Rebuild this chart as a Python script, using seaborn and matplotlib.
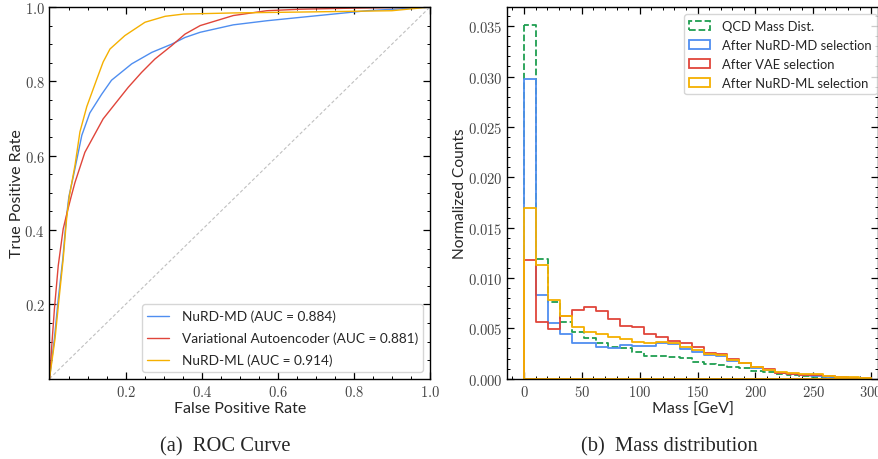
import numpy as np
import pandas as pd
import matplotlib
matplotlib.use('Agg')
import matplotlib.pyplot as plt
import seaborn as sns
from matplotlib.patches import Patch
from matplotlib.ticker import MultipleLocator, FuncFormatter

# ROC curves
fpr_md = [0, 0.0128, 0.023, 0.035, 0.044, 0.051, 0.063, 0.085, 0.106, 0.137, 0.163, 0.216,
          0.269, 0.321, 0.356, 0.396, 0.483, 0.571, 0.658, 0.746, 0.834, 0.921, 1.0]
tpr_md = [0, 0.107, 0.214, 0.322, 0.43, 0.49, 0.546, 0.655, 0.715, 0.765, 0.803, 0.847,
          0.878, 0.900, 0.918, 0.932, 0.952, 0.963, 0.972, 0.981, 0.990, 0.995, 1.0]

fpr_vae = [0, 0.001, 0.006, 0.013, 0.023, 0.036, 0.047, 0.057, 0.067, 0.093, 0.141, 0.172,
           0.207, 0.242, 0.277, 0.321, 0.356, 0.396, 0.483, 0.571, 0.658, 0.8, 1.0]
tpr_vae = [0, 0.008, 0.089, 0.188, 0.304, 0.403, 0.45, 0.49, 0.528, 0.609, 0.699, 0.739,
           0.784, 0.824, 0.860, 0.896, 0.927, 0.950, 0.977, 0.990, 0.994, 0.997, 1.0]

fpr_ml = [0, 0.0145, 0.025, 0.036, 0.045, 0.052, 0.067, 0.080, 0.098, 0.124, 0.141, 0.159,
          0.198, 0.251, 0.304, 0.352, 0.483, 0.7, 0.9, 1.0]
tpr_ml = [0, 0.107, 0.214, 0.322, 0.43, 0.49, 0.574, 0.664, 0.732, 0.805, 0.852, 0.887,
          0.923, 0.959, 0.975, 0.981, 0.984, 0.987, 0.990, 1.0]

roc_labels = ['NuRD-MD (AUC = 0.884)', 'Variational Autoencoder (AUC = 0.881)', 'NuRD-ML (AUC = 0.914)']

# Mass histograms (normalized counts per bin)
mass_edges = list(np.linspace(0, 300, 30))
qcd_counts = [0.0351, 0.01187, 0.00763, 0.00565, 0.00462, 0.00408, 0.00358, 0.00318, 0.00301, 0.00268,
              0.00227, 0.00224, 0.00217, 0.00204, 0.00167, 0.0015, 0.0014, 0.00117, 0.00104, 0.00077,
              0.00064, 0.00047, 0.00033, 0.00023, 0.00017, 0.0001, 0.00007, 0.00003, 0.00003]
md_counts = [0.0298, 0.00826, 0.00552, 0.00441, 0.00358, 0.00351, 0.00318, 0.00308, 0.00334, 0.00328,
             0.00328, 0.0035, 0.00344, 0.00291, 0.00268, 0.00237, 0.00227, 0.00177, 0.00157, 0.0011,
             0.00084, 0.0006, 0.0005, 0.00037, 0.0003, 0.0002, 0.00013, 0.0001, 0.00007]
vae_counts = [0.0118, 0.00562, 0.00492, 0.00624, 0.00684, 0.00707, 0.00672, 0.00592, 0.00528, 0.00512,
              0.00442, 0.00414, 0.00375, 0.00351, 0.00314, 0.00258, 0.00247, 0.00191, 0.0016, 0.00117,
              0.00094, 0.0006, 0.0005, 0.0004, 0.00033, 0.00023, 0.00017, 0.0001, 0.00007]
ml_counts = [0.01698, 0.01124, 0.00779, 0.00619, 0.00518, 0.00468, 0.00445, 0.00418, 0.00391, 0.00368,
             0.00351, 0.00361, 0.00351, 0.00318, 0.00284, 0.00244, 0.00234, 0.00184, 0.0016, 0.00117,
             0.0009, 0.00067, 0.00057, 0.0005, 0.00043, 0.00027, 0.0002, 0.00013, 0.00007]
hist_labels = ['QCD Mass Dist.', 'After NuRD-MD selection', 'After VAE selection', 'After NuRD-ML selection']

blue = '#4f8ef0'
red = '#e0453a'
yellow = '#f5b000'
green = '#1f9e50'

sns.set_theme(style='ticks')
plt.rcParams['font.family'] = ['Lato', 'DejaVu Sans']
plt.rcParams['mathtext.fontset'] = 'cm'
plt.rcParams['axes.linewidth'] = 1.0
plt.rcParams['axes.edgecolor'] = 'black'

fig = plt.figure(figsize=(8.79, 4.6), dpi=100)
ax1 = fig.add_axes([0.0563, 0.1746, 0.4329, 0.808])
ax2 = fig.add_axes([0.5771, 0.1746, 0.4218, 0.808])

# ---- ROC ----
sns.lineplot(x=[0, 1], y=[0, 1], ax=ax1, color='#c0c0c0', linestyle=(0, (3, 2)), linewidth=0.8)
for fpr, tpr, c, lab in [(fpr_md, tpr_md, blue, roc_labels[0]),
                         (fpr_vae, tpr_vae, red, roc_labels[1]),
                         (fpr_ml, tpr_ml, yellow, roc_labels[2])]:
    df = pd.DataFrame({'fpr': fpr, 'tpr': tpr})
    sns.lineplot(data=df, x='fpr', y='tpr', ax=ax1, sort=False, estimator=None,
                 color=c, linewidth=1.0, label=lab)
ax1.set_xlim(0, 1)
ax1.set_ylim(0, 1)
ax1.set_xticks([0.2, 0.4, 0.6, 0.8, 1.0])
ax1.set_yticks([0.2, 0.4, 0.6, 0.8, 1.0])
ax1.xaxis.set_minor_locator(MultipleLocator(0.05))
ax1.yaxis.set_minor_locator(MultipleLocator(0.05))
fmt1 = FuncFormatter(lambda v, p: r'$%.1f$' % v)
ax1.xaxis.set_major_formatter(fmt1)
ax1.yaxis.set_major_formatter(fmt1)
ax1.set_xlabel('False Positive Rate', fontsize=11.5, labelpad=2)
ax1.set_ylabel('True Positive Rate', fontsize=11.5, labelpad=0.5)
ax1.legend(loc='lower right', fontsize=9.8, handlelength=1.6, handletextpad=0.9,
           labelspacing=0.7, frameon=True, fancybox=True, edgecolor='#cccccc')

# ---- Mass histograms ----
centers = [(a + b) / 2 for a, b in zip(mass_edges[:-1], mass_edges[1:])]
for counts, c, ls in [(qcd_counts, green, '--'), (md_counts, blue, '-'),
                      (vae_counts, red, '-'), (ml_counts, yellow, '-')]:
    hdf = pd.DataFrame({'mass': centers, 'w': counts})
    sns.histplot(data=hdf, x='mass', weights='w', bins=mass_edges, element='step', fill=True,
                 facecolor='none', edgecolor=c, color=c, alpha=1, linewidth=1.3,
                 linestyle=ls, ax=ax2)
ax2.set_xlim(-14.5, 306)
ax2.set_ylim(0, 0.0369)
ax2.xaxis.set_major_locator(MultipleLocator(50))
ax2.xaxis.set_minor_locator(MultipleLocator(10))
ax2.yaxis.set_major_locator(MultipleLocator(0.005))
ax2.yaxis.set_minor_locator(MultipleLocator(0.001))
ax2.xaxis.set_major_formatter(FuncFormatter(lambda v, p: r'$%d$' % v))
ax2.yaxis.set_major_formatter(FuncFormatter(lambda v, p: r'$%.3f$' % v))
ax2.set_xlabel('Mass [GeV]', fontsize=11.5, labelpad=2)
ax2.set_ylabel('Normalized Counts', fontsize=11.2, labelpad=0.5)
handles = [Patch(facecolor='none', edgecolor=c, linestyle=ls, linewidth=1.3)
           for c, ls in [(green, '--'), (blue, '-'), (red, '-'), (yellow, '-')]]
ax2.legend(handles, hist_labels, loc='upper right', bbox_to_anchor=(0.997, 0.98),
           borderaxespad=0, fontsize=9.4, handlelength=1.6, handletextpad=0.9,
           labelspacing=0.55, frameon=True, fancybox=True, edgecolor='#cccccc')

for ax in (ax1, ax2):
    ax.tick_params(which='both', direction='in', top=True, right=True, colors='black',
                   labelsize=10.5, labelcolor='#444444')
    ax.tick_params(which='major', length=5, width=0.9)
    ax.tick_params(which='minor', length=2.5, width=0.7)
    for s in ax.spines.values():
        s.set_visible(True)
        s.set_color('black')

fig.text(0.256, 0.028, '(a)  ROC Curve', ha='center', va='center',
         fontsize=14.8, family='Liberation Serif')
fig.text(0.762, 0.028, '(b)  Mass distribution', ha='center', va='center',
         fontsize=14.8, family='Liberation Serif')

fig.savefig('out.png', dpi=100)
